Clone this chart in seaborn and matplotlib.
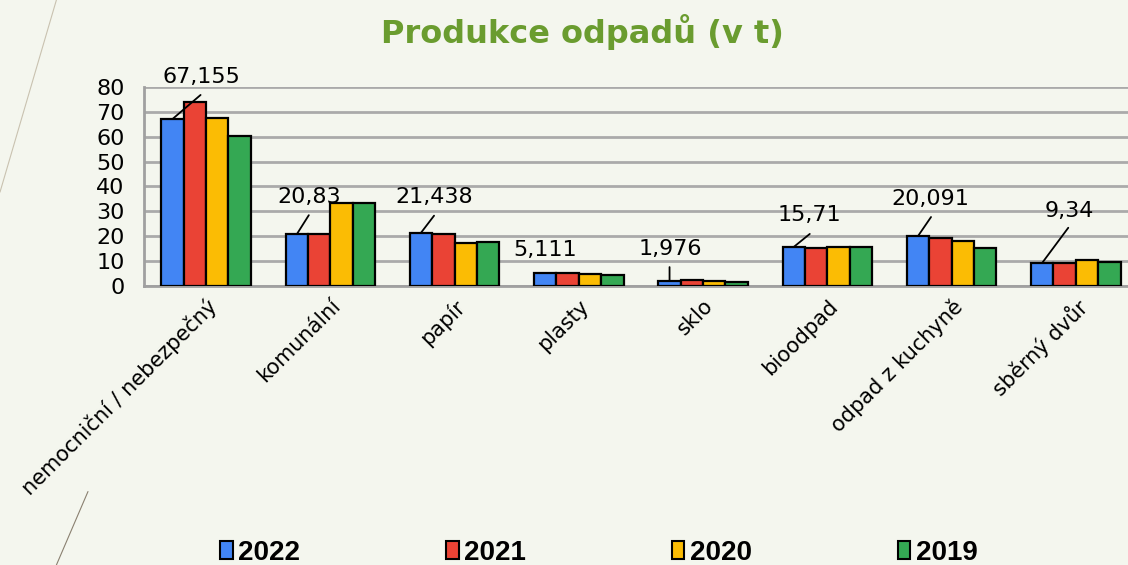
import numpy as np
import pandas as pd
import matplotlib
matplotlib.use("Agg")
import matplotlib.pyplot as plt
import seaborn as sns
from matplotlib.patches import Patch
from matplotlib.lines import Line2D

categories = ["nemocniční / nebezpečný", "komunální", "papír", "plasty",
              "sklo", "bioodpad", "odpad z kuchyně", "sběrný dvůr"]
years = ["2022", "2021", "2020", "2019"]
v2022 = [67.155, 20.83, 21.438, 5.111, 1.976, 15.71, 20.091, 9.34]
v2021 = [74.0, 20.9, 21.0, 5.1, 2.3, 15.4, 19.2, 9.4]
v2020 = [67.7, 33.2, 17.4, 4.7, 2.0, 15.8, 18.1, 10.5]
v2019 = [60.5, 33.2, 17.7, 4.5, 1.8, 15.8, 15.1, 9.7]
colors = ["#4285f4", "#ea4335", "#fbbc04", "#34a853"]

# callout offsets for the 2022 labels (pixels from bar top): leader end, text centre
line_off = [(28, 24), (12, 19), (13, 17), (0, 0), (0, 14), (16, 13), (13, 19), (26, 35)]
text_off = [(29, 42), (12, 37), (13, 36), (0, 23), (1, 32), (16, 32), (12, 37), (27, 52)]

df = pd.DataFrame({
    "kategorie": categories * 4,
    "rok": np.repeat(years, len(categories)),
    "t": v2022 + v2021 + v2020 + v2019,
})

sns.set_style("white")
plt.rcParams["font.family"] = ["DejaVu Sans"]
plt.rcParams["text.color"] = "black"
plt.rcParams["xtick.color"] = "black"
plt.rcParams["ytick.color"] = "black"

fig = plt.figure(figsize=(11.28, 5.65), dpi=100, facecolor="#f4f6ee")
ax = fig.add_axes([144 / 1128, 1 - 286 / 565, (1128 - 144) / 1128, 199 / 565])
ax.set_facecolor("none")

sns.barplot(data=df, x="kategorie", y="t", hue="rok", palette=colors,
            width=0.72, edgecolor="black", linewidth=1.6, saturation=1,
            legend=False, ax=ax, zorder=3)

ax.set_ylim(0, 80)
ax.set_xlim(-0.5, 7.42)
ax.set_yticks(range(0, 81, 10))
ax.yaxis.grid(True, color="#aaaaaa", linewidth=2, zorder=0)
ax.set_axisbelow(True)
for s in ["top", "right"]:
    ax.spines[s].set_visible(False)
for s in ["left", "bottom"]:
    ax.spines[s].set_color("#a0a0a0")
    ax.spines[s].set_linewidth(2)
ax.set_xlabel("")
ax.set_ylabel("")
ax.tick_params(axis="y", length=0, pad=14, labelsize=16)
ax.tick_params(axis="x", length=0, pad=7, labelsize=15)
plt.setp(ax.get_xticklabels(), rotation=45, ha="right", rotation_mode="anchor")

for i, bar in enumerate(ax.containers[0]):
    x = bar.get_x() + bar.get_width() / 2
    y = bar.get_height()
    if line_off[i] != (0, 0):
        ax.annotate("", xy=(x, y), xytext=line_off[i], textcoords="offset pixels",
                    arrowprops=dict(arrowstyle="-", color="black", lw=1.3,
                                    shrinkA=0, shrinkB=0), annotation_clip=False)
    lab = f"{v2022[i]:g}".replace(".", ",")
    ax.annotate(lab, xy=(x, y), xytext=text_off[i], textcoords="offset pixels",
                ha="center", va="center", fontsize=16, annotation_clip=False)

fig.text(0.516, 0.943, "Produkce odpadů (v t)", ha="center", va="center",
         fontsize=23, fontweight="bold", color="#6a9c2f")

handles = [Patch(facecolor=c, edgecolor="black", linewidth=1.5) for c in colors]
fig.legend(handles, years, loc="lower center", bbox_to_anchor=(0.531, -0.046),
           ncol=4, frameon=False, columnspacing=5.25, handlelength=0.45,
           handleheight=0.6, handletextpad=0.2,
           prop={"family": ["Liberation Sans", "DejaVu Sans"],
                 "weight": "bold", "size": 20})

# faint slide decoration lines on the left
fig.add_artist(Line2D([0.0, 0.05], [0.66, 1.0], color="#c9c2b0", lw=0.8))
fig.add_artist(Line2D([0.05, 0.078], [0.0, 0.13], color="#8a8070", lw=0.8))

fig.savefig("out.png", dpi=100, facecolor=fig.get_facecolor())
